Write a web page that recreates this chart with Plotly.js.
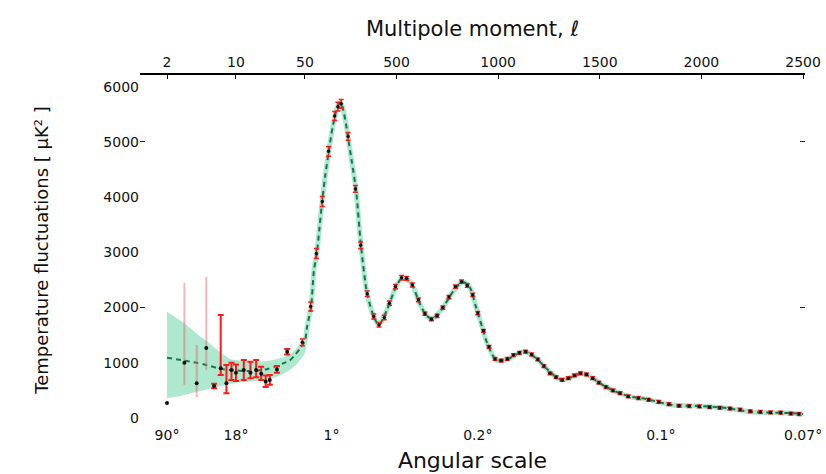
<!DOCTYPE html>
<html>
<head>
<meta charset="utf-8">
<script src="https://cdn.plot.ly/plotly-3.0.1.min.js"></script>
<style>
  html, body { margin: 0; padding: 0; background: #ffffff; }
  #chart { width: 826px; height: 474px; }
</style>
</head>
<body>
<div id="chart"></div>
<script>
// ---- Best-fit model curve (multipole l, D_l in microK^2) ----
const curveL = [2,3,4,5,7,10,14,20,25,30,35,40,45,50,60,70,80,94,109,120,134,150,168,185,202,215,227,240,255,266,280,301,325,355,389,414,453,497,527,555,576,611,645,675,724,773,822,850,867,891,921,940,965,989,1039,1103,1137,1186,1235,1285,1314,1363,1412,1462,1531,1595,1658,1727,1855,1988,2121,2249,2430,2500];
const curveD = [1090,1040,1000,960,890,860,850,880,930,990,1040,1150,1270,1400,1640,1830,2010,2680,3007,3400,3913,4400,4855,5250,5543,5680,5707,5550,5250,4982,4650,4130,3134,2264,1830,1685,1957,2373,2536,2500,2427,2101,1866,1793,1975,2264,2464,2420,2319,2011,1649,1413,1196,1050,1050,1177,1196,1087,906,743,688,743,815,725,562,453,380,344,235,217,181,109,90,72];

// ---- Cosmic-variance band at low multipoles ----
const bandL  = [2,3,4,5,6,7,8,9,10,12,15,20,25,30,35,40,45,50,60];
const bandHi = [1926,1714,1527,1397,1281,1181,1109,1060,1050,1030,1020,1030,1060,1100,1150,1240,1360,1490,1730];
const bandLo = [357,418,475,518,547,576,598,620,635,650,665,688,740,800,870,950,1060,1180,1450];

// ---- Low-l data points, faint error bars ----
const faintL  = [2,3,4,5];
const faintD  = [270,1000,630,1270];
const faintUp = [0,1450,690,1290];
const faintDn = [0,400,250,400];

// ---- Low-l data points, red error bars ----
const lowL  = [6,7,8,9,10,12,14,16,18,20,22,26,33];
const lowD  = [580,900,630,870,820,870,820,870,800,660,690,880,1200];
const lowUp = [40,966,330,130,150,180,200,180,130,110,90,60,50];
const lowDn = [40,120,180,180,150,180,100,130,110,100,90,60,50];

// ---- Binned high-l data points ----
const hiL = [47,78,106,135,166,196,212,228,262,298,324,356,388,414,440,465,495,525,550,578,608,640,672,700,728,758,790,820,848,875,900,928,955,985,1015,1045,1075,1105,1135,1165,1195,1225,1255,1285,1315,1345,1375,1405,1435,1465,1495,1530,1565,1600,1640,1690,1740,1790,1840,1890,1940,1990,2040,2090,2140,2190,2240,2290,2340,2390,2440,2480];
const hiD = [1370,2020,2980,3920,4830,5470,5640,5690,5100,4150,3130,2250,1840,1690,1820,2080,2380,2540,2530,2410,2140,1890,1790,1850,2000,2190,2380,2470,2400,2230,1900,1580,1290,1070,1040,1070,1140,1180,1200,1150,1060,940,810,740,690,720,770,810,790,720,640,560,500,450,390,360,330,290,250,220,215,210,195,185,170,150,120,110,100,95,80,70];
const hiErr = [60,80,90,90,90,80,80,80,70,60,60,50,45,40,40,40,40,40,35,35,35,30,30,30,30,30,30,30,30,30,30,25,25,25,25,25,25,25,25,25,25,25,25,25,25,25,25,25,25,25,25,25,25,25,25,25,25,25,25,25,25,25,25,25,25,25,25,25,25,25,25,25];

// ---- Axis tick labels ----
const topTickL    = [2,10,50,500,1000,1500,2000,2500];
const topTickText = ['2','10','50','500','1000','1500','2000','2500'];
const botTickL    = [2,10,180,900,1800,2500];
const botTickText = ['90°','18°','1°','0.2°','0.1°','0.07°'];
const yTickVals   = [0,1000,2000,3000,4000,5000,6000];
const yMarkVals   = [2000,5000];

// Hybrid axis scale: logarithmic for l <= 50, linear above
function ellScale(l) {
  return l <= 50 ? 98.7 * Math.log10(l / 2) : 138 + (l - 50) * 0.2033;
}
const X = a => a.map(ellScale);

const FONT = 'DejaVu Sans, sans-serif';
const BAND = '#aee8cf';
const LINE = '#13794b';

const traces = [
  { x: X(bandL), y: bandLo, type: 'scatter', mode: 'lines',
    line: { width: 0, color: BAND, shape: 'spline' }, showlegend: false, hoverinfo: 'skip' },
  { x: X(bandL), y: bandHi, type: 'scatter', mode: 'lines', fill: 'tonexty',
    fillcolor: BAND, line: { width: 0, color: BAND, shape: 'spline' }, showlegend: false, hoverinfo: 'skip' },
  { x: X(curveL), y: curveD, type: 'scatter', mode: 'lines',
    line: { color: BAND, width: 5, shape: 'spline', smoothing: 0.7 }, showlegend: false },
  { x: X(curveL), y: curveD, type: 'scatter', mode: 'lines',
    line: { color: LINE, width: 2, dash: '5px,4px', shape: 'spline', smoothing: 0.7 }, showlegend: false },
  { x: X(faintL), y: faintD, type: 'scatter', mode: 'markers',
    marker: { color: '#111111', size: 4 },
    error_y: { type: 'data', symmetric: false, array: faintUp, arrayminus: faintDn,
               color: 'rgba(240,90,90,0.45)', thickness: 2, width: 0 },
    showlegend: false },
  { x: X(lowL), y: lowD, type: 'scatter', mode: 'markers',
    marker: { color: '#111111', size: 4 },
    error_y: { type: 'data', symmetric: false, array: lowUp, arrayminus: lowDn,
               color: '#ff1a1a', thickness: 2, width: 3 },
    showlegend: false },
  { x: X(hiL), y: hiD, type: 'scatter', mode: 'markers',
    marker: { color: '#111111', size: 3.5 },
    error_y: { type: 'data', array: hiErr, color: '#ff1a1a', thickness: 1.5, width: 2.5 },
    showlegend: false },
  // invisible anchors so the top axis and the tick-mark axis are drawn
  { x: X(topTickL), y: yMarkVals.concat(yMarkVals, yMarkVals, yMarkVals), xaxis: 'x2', yaxis: 'y2',
    type: 'scatter', mode: 'markers', marker: { opacity: 0, size: 1 }, showlegend: false, hoverinfo: 'skip' }
];

const xr = [-27, 638];
const yr = [-127, 6213];

const layout = {
  width: 826, height: 474,
  margin: { l: 140, r: 21, t: 75, b: 49 },
  paper_bgcolor: '#ffffff', plot_bgcolor: '#ffffff',
  font: { family: FONT, color: '#111111' },
  showlegend: false,
  xaxis: {
    range: xr, showgrid: false, zeroline: false, showline: false,
    tickmode: 'array', tickvals: X(botTickL), ticktext: botTickText,
    ticks: '', tickfont: { size: 14, family: FONT },
    title: { text: 'Angular scale', font: { size: 22, family: FONT }, standoff: 10 }
  },
  xaxis2: {
    range: xr, overlaying: 'x', side: 'top', anchor: 'y2',
    showgrid: false, zeroline: false, showline: true, linecolor: '#000000', linewidth: 2,
    tickmode: 'array', tickvals: X(topTickL), ticktext: topTickText,
    ticks: 'inside', ticklen: 4, tickwidth: 1, tickcolor: '#000000',
    tickfont: { size: 14, family: FONT },
    title: { text: 'Multipole moment, ℓ', font: { size: 21, family: FONT }, standoff: 12 }
  },
  yaxis: {
    range: yr, showgrid: false, zeroline: false, showline: false,
    tickmode: 'array', tickvals: yTickVals, ticks: '',
    tickfont: { size: 14, family: FONT },
    title: { text: 'Temperature fluctuations [ μK² ]', font: { size: 18, family: FONT }, standoff: 50 }
  },
  yaxis2: {
    range: yr, overlaying: 'y', side: 'left', anchor: 'x2',
    showgrid: false, zeroline: false, showline: false, showticklabels: false,
    tickmode: 'array', tickvals: yMarkVals,
    ticks: 'inside', ticklen: 5, tickwidth: 1, tickcolor: '#222222', mirror: 'ticks'
  }
};

Plotly.newPlot('chart', traces, layout, { staticPlot: true, displayModeBar: false });
</script>
</body>
</html>
